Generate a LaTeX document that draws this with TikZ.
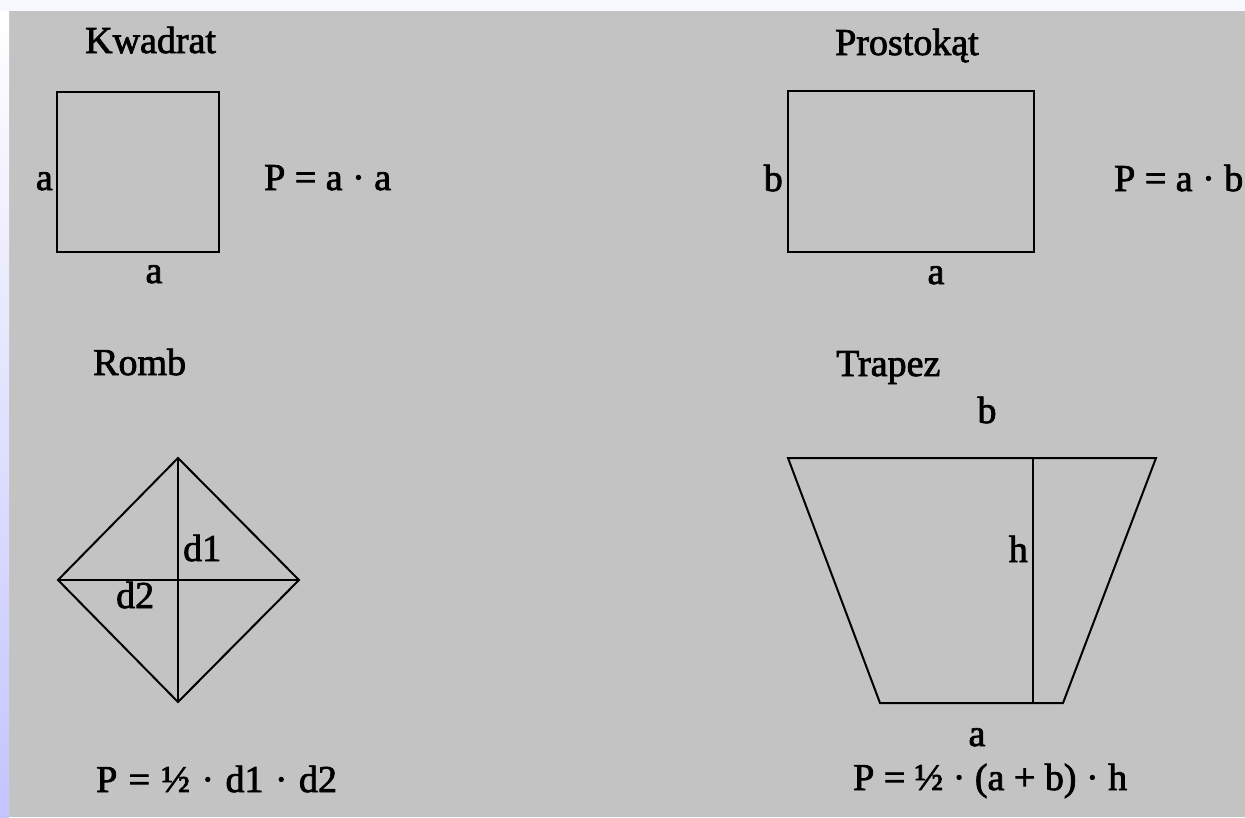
\documentclass[tikz,border=0pt]{standalone}
\usepackage{fontspec}
\setmainfont{Liberation Serif}
\newfontfamily\heavyserif{Liberation Serif}[FakeBold=2]
\newcommand\figfont{\heavyserif\fontsize{38}{45}\selectfont}
\definecolor{bggray}{RGB}{195,195,195}
\definecolor{topstrip}{RGB}{248,248,255}
\definecolor{leftlow}{RGB}{196,196,255}
\tikzset{
  lbl/.style={inner sep=0pt, font=\figfont, text=black},
  shape line/.style={draw=black, line width=2pt, line join=miter},
}
\begin{document}
\begin{tikzpicture}[x=1pt,y=-1pt]
\useasboundingbox (0,0) rectangle (1245,817);
% background
\fill[bggray] (0,0) rectangle (1245,817);
\fill[topstrip] (0,0) rectangle (1245,11);
\shade[top color=white, bottom color=leftlow] (0,11) rectangle (9,817);

% ---- Kwadrat ----
\node[lbl, anchor=base west] (kwTitle) at (85,53) {Kwadrat};
\coordinate (sqA) at (57,92);
\coordinate (sqB) at (219,92);
\coordinate (sqC) at (219,252);
\coordinate (sqD) at (57,252);
\draw[shape line] (sqA) -- (sqB) -- (sqC) -- (sqD) -- cycle;
\node[lbl, anchor=base east] (kwSide) at (53,190) {a};
\node[lbl, anchor=base] (kwBase) at (154,283) {a};
\node[lbl, anchor=base west] (kwForm) at (264,190) {P = a · a};

% ---- Prostokąt ----
\node[lbl, anchor=base west] (prTitle) at (835,55) {Prostokąt};
\coordinate (rcA) at (788,91);
\coordinate (rcB) at (1034,91);
\coordinate (rcC) at (1034,252);
\coordinate (rcD) at (788,252);
\draw[shape line] (rcA) -- (rcB) -- (rcC) -- (rcD) -- cycle;
\node[lbl, anchor=base east] (prSide) at (783,191) {b};
\node[lbl, anchor=base] (prBase) at (936,284) {a};
\node[lbl, anchor=base west] (prForm) at (1114,191) {P = a · b};

% ---- Romb ----
\node[lbl, anchor=base west] (rbTitle) at (93,375) {Romb};
\coordinate (rbT) at (178,458);
\coordinate (rbR) at (299,580);
\coordinate (rbB) at (178,702);
\coordinate (rbL) at (58,580);
\draw[shape line] (rbT) -- (rbR) -- (rbB) -- (rbL) -- cycle;
\draw[shape line] (rbT) -- (rbB);
\draw[shape line] (rbL) -- (rbR);
\node[lbl, anchor=base west] (rbD1) at (183,561) {d1};
\node[lbl, anchor=base west] (rbD2) at (116,608) {d2};
\node[lbl, anchor=base west] (rbForm) at (96,792) {P\hspace{0.3em}=\hspace{0.3em}½\hspace{0.3em}·\hspace{0.3em}d1\hspace{0.3em}·\hspace{0.3em}d2};

% ---- Trapez ----
\node[lbl, anchor=base west] (tzTitle) at (836,376) {Trapez};
\coordinate (tzTL) at (788,458);
\coordinate (tzTR) at (1156,458);
\coordinate (tzBR) at (1063,703);
\coordinate (tzBL) at (880,703);
\coordinate (tzHT) at (1033,458);
\coordinate (tzHB) at (1033,703);
\draw[shape line] (tzTL) -- (tzTR) -- (tzBR) -- (tzBL) -- cycle;
\draw[shape line] (tzHT) -- (tzHB);
\node[lbl, anchor=base] (tzB) at (987,423) {b};
\node[lbl, anchor=base east] (tzH) at (1028,562) {h};
\node[lbl, anchor=base] (tzA) at (977,746) {a};
\node[lbl, anchor=base west] (tzForm) at (853,790) {P = ½ · (a + b) · h};
\end{tikzpicture}
\end{document}
